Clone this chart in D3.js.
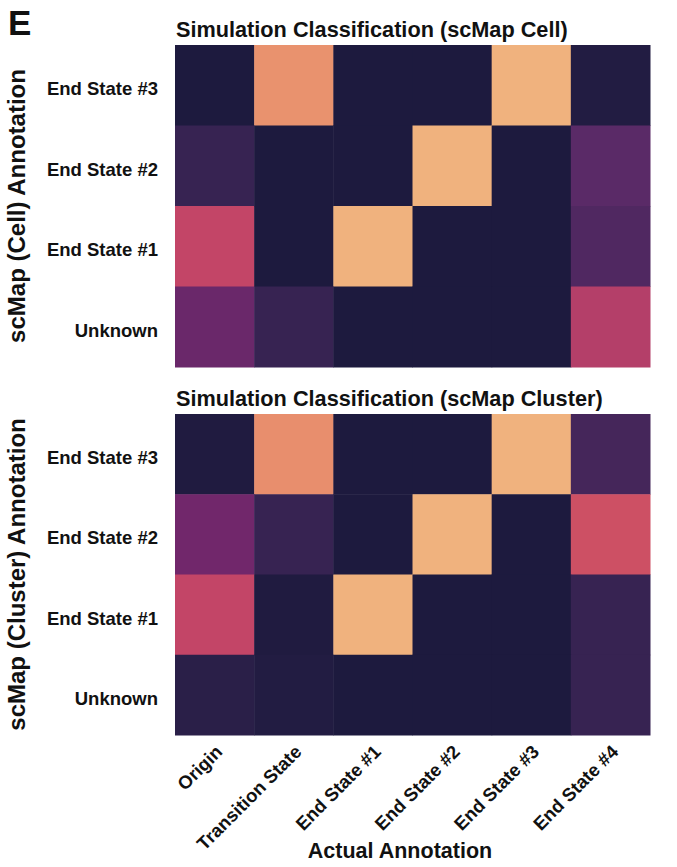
<!DOCTYPE html>
<html>
<head>
<meta charset="utf-8">
<script src="https://cdn.jsdelivr.net/npm/d3@7"></script>
<style>
  body { margin: 0; background: #fff; }
  text { font-family: "Liberation Sans", Arial, Helvetica, sans-serif; font-weight: bold; fill: #111; }
</style>
</head>
<body>
<svg id="fig" width="677" height="867"></svg>
<script>
// Actual annotation (columns) and predicted annotation (rows, top to bottom)
const actualLabels = ["Origin", "Transition State", "End State #1", "End State #2", "End State #3", "End State #4"];
const predictedLabels = ["End State #3", "End State #2", "End State #1", "Unknown"];

// Fraction of cells of each actual state assigned to each predicted label
const cellValues = [
  [0.00, 0.80, 0.00, 0.00, 1.00, 0.02],
  [0.10, 0.00, 0.00, 1.00, 0.00, 0.20],
  [0.50, 0.00, 1.00, 0.00, 0.00, 0.17],
  [0.27, 0.10, 0.00, 0.00, 0.00, 0.45]
];
const clusterValues = [
  [0.01, 0.78, 0.00, 0.00, 1.00, 0.14],
  [0.30, 0.10, 0.00, 1.00, 0.00, 0.56],
  [0.50, 0.01, 1.00, 0.00, 0.00, 0.10],
  [0.05, 0.02, 0.00, 0.00, 0.00, 0.10]
];

const panelTitles = ["Simulation Classification (scMap Cell)", "Simulation Classification (scMap Cluster)"];
const rowAxisTitles = ["scMap (Cell) Annotation", "scMap (Cluster) Annotation"];
const columnAxisTitle = "Actual Annotation";
const panelLetter = "E";

// Sequential palette stops (dark navy -> purple -> rose -> peach)
const colorDomain = [0, 0.1, 0.2, 0.3, 0.4, 0.5, 0.6, 0.7, 0.8, 1.0];
const colorRange = ["#1d1a3e", "#372352", "#5a2a67", "#71276b", "#a4386a", "#c34567", "#d35862", "#e47e6a", "#e9926e", "#f0b27e"];

const color = d3.scaleLinear().domain(colorDomain).range(colorRange).interpolate(d3.interpolateRgb).clamp(true);

const svg = d3.select("#fig");

const left = 175, right = 650;
const panels = [
  { values: cellValues, top: 45, bottom: 367, title: panelTitles[0], yTitle: rowAxisTitles[0] },
  { values: clusterValues, top: 414, bottom: 735, title: panelTitles[1], yTitle: rowAxisTitles[1] }
];

const x = d3.scaleBand().domain(actualLabels).range([left, right]).padding(0);

panels.forEach((p, pi) => {
  const y = d3.scaleBand().domain(predictedLabels).range([p.top, p.bottom]).padding(0);
  const g = svg.append("g");

  const cells = [];
  p.values.forEach((row, ri) => row.forEach((v, ci) => cells.push({ r: predictedLabels[ri], c: actualLabels[ci], v })));

  g.selectAll("rect.cell").data(cells).join("rect")
    .attr("class", "cell")
    .attr("x", d => x(d.c))
    .attr("y", d => y(d.r))
    .attr("width", x.bandwidth() + 0.5)
    .attr("height", y.bandwidth() + 0.5)
    .attr("fill", d => color(d.v));

  // row labels
  const yAxis = d3.axisLeft(y).tickSize(0).tickPadding(17);
  const ya = g.append("g").attr("transform", `translate(${left},0)`).call(yAxis);
  ya.select(".domain").remove();
  ya.selectAll("text").style("font-size", "18.5px").attr("fill", "#111").attr("dy", "0.54em");

  // panel title
  g.append("text")
    .attr("x", left + 1).attr("y", p.top - 8)
    .style("font-size", "21.7px")
    .text(p.title);

  // row axis title
  g.append("text")
    .attr("transform", `translate(25,${(p.top + p.bottom) / 2}) rotate(-90)`)
    .attr("text-anchor", "middle")
    .style("font-size", "24px")
    .text(p.yTitle);

  if (pi === 1) {
    const xAxis = d3.axisBottom(x).tickSize(0).tickPadding(0);
    const xa = g.append("g").attr("transform", `translate(0,${p.bottom})`).call(xAxis);
    xa.select(".domain").remove();
    xa.selectAll("text")
      .style("font-size", "18.5px")
      .attr("fill", "#111")
      .attr("text-anchor", "end")
      .attr("dy", null)
      .attr("y", 0)
      .attr("transform", "translate(9,18) rotate(-45)");
  }
});

svg.append("text")
  .attr("x", 400).attr("y", 858)
  .attr("text-anchor", "middle")
  .style("font-size", "21.5px")
  .text(columnAxisTitle);

svg.append("text")
  .attr("x", 8).attr("y", 35)
  .style("font-size", "35px")
  .text(panelLetter);
</script>
</body>
</html>
